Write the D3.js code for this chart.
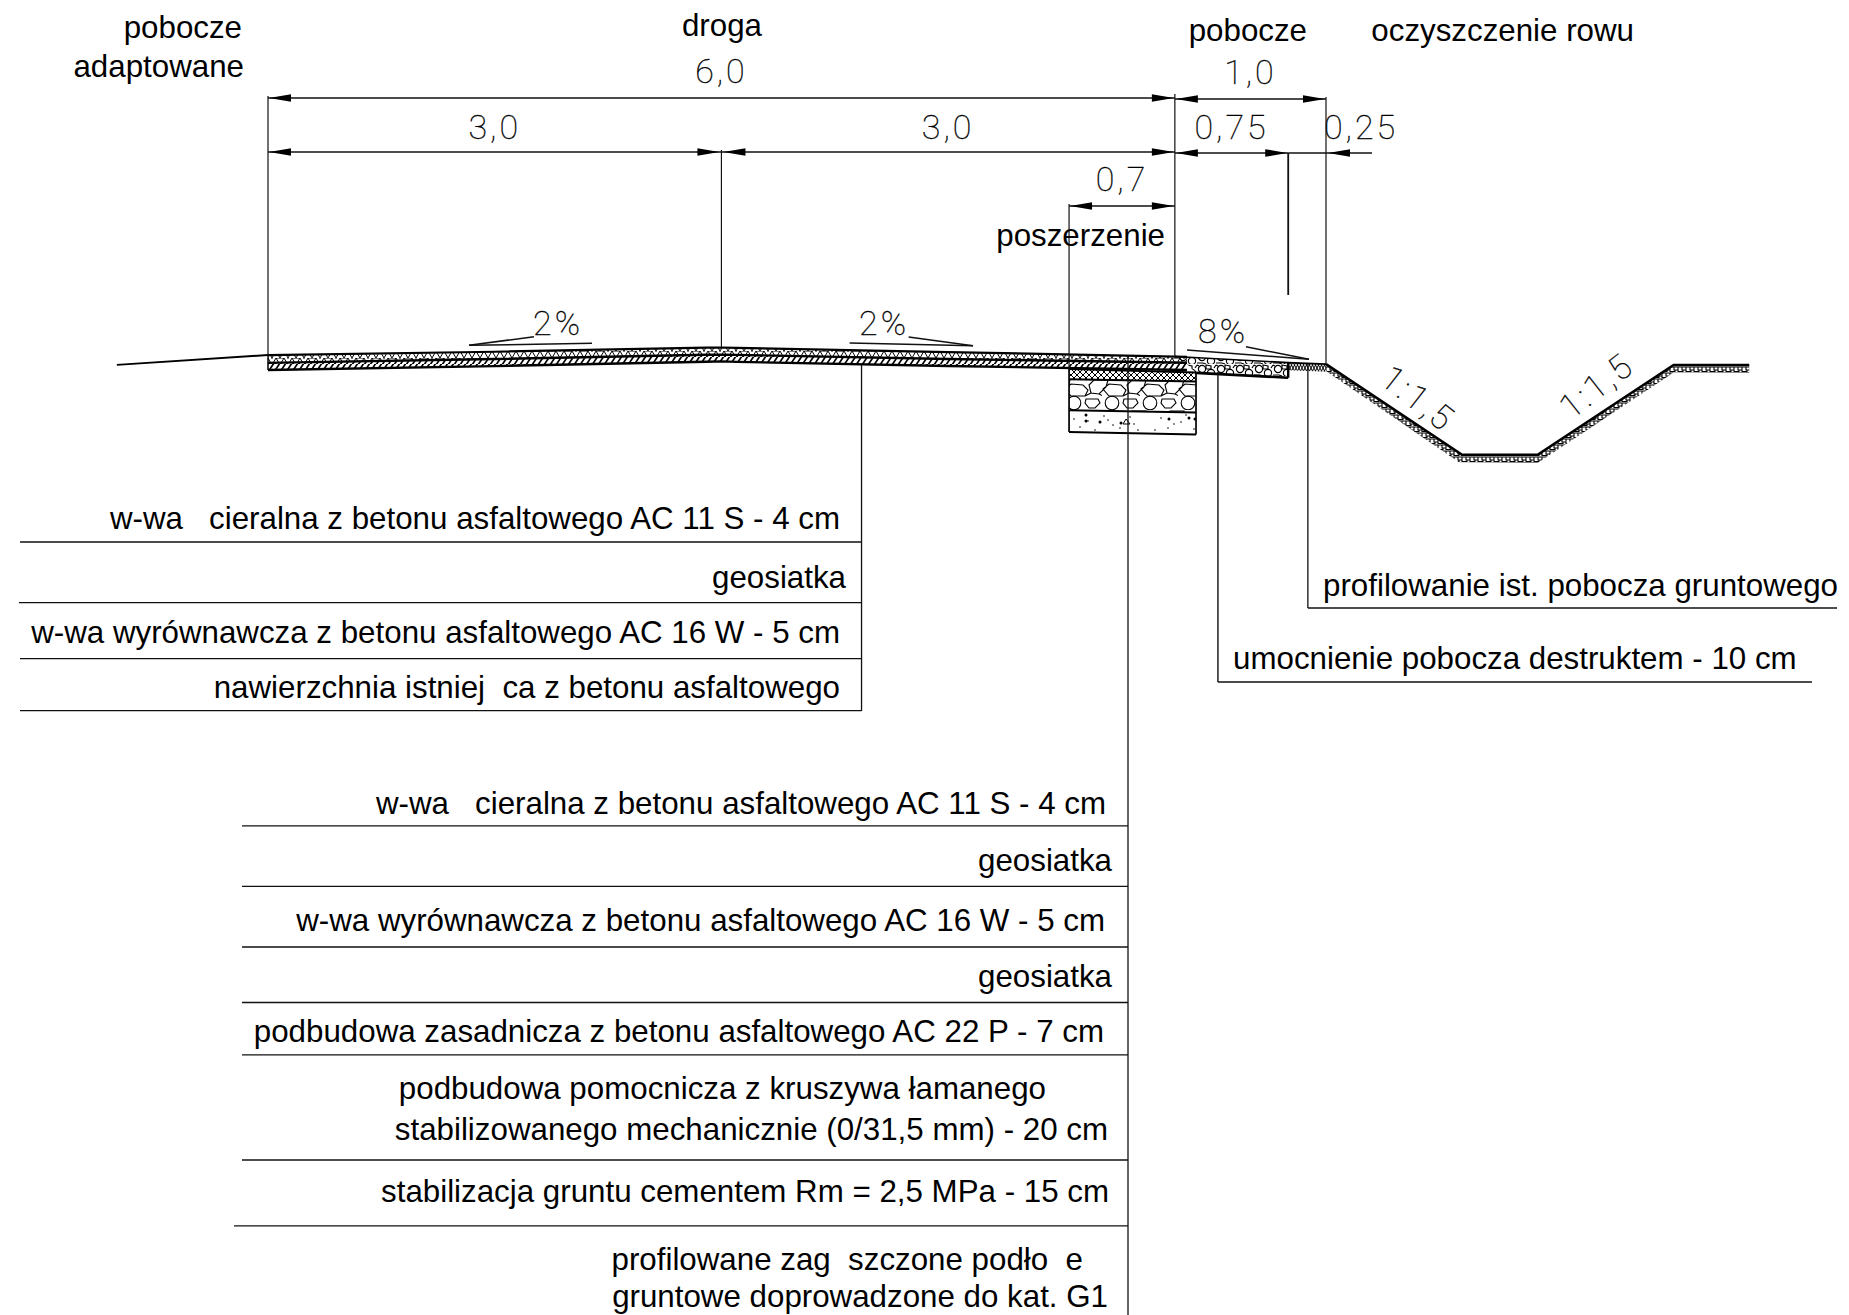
<!DOCTYPE html>
<html>
<head>
<meta charset="utf-8">
<script src="https://cdn.jsdelivr.net/npm/d3@7"></script>
<style>
  html, body { margin: 0; background: #fff; }
  text { font-family: "Liberation Sans", Arial, sans-serif; white-space: pre; fill: #000; }
</style>
</head>
<body>
<div id="graph"></div>
<script>
// dimensions along the cross section, metres from the road axis
const dimStart = [-3, -3, 0, 3, 3, 3.75, 2.3];
const dimValue = [6, 3, 3, 1, 0.75, 0.25, 0.7];
const dimLabels = ["6,0", "3,0", "3,0", "1,0", "0,75", "0,25", "0,7"];

// surface and layers: chainage (m), elevation (m)
const roadTop = [[-3, -0.05], [-1.5, -0.028], [-0.1, -0.001], [0, 0], [0.1, -0.002], [1.5, -0.03], [3, -0.06], [3.08, -0.062]];
const roadMid = [[-3, -0.102], [-1.5, -0.076], [-0.1, -0.048], [0, -0.047], [0.1, -0.049], [1.5, -0.076], [3.08, -0.101]];
const roadBottom = [[-3, -0.149], [-1.5, -0.123], [-0.1, -0.094], [0, -0.092], [0.1, -0.095], [1.5, -0.122], [3.08, -0.149]];
const leftVerge = [[-4, -0.115], [-3, -0.05]];
const shoulderTop = [[3, -0.06], [3.75, -0.1], [4, -0.11]];
const shoulderBottom = [[3.14, -0.168], [3.75, -0.2]];
const profiledVerge = [[3.75, -0.1], [4, -0.11], [4, -0.16], [3.75, -0.15]];
const ditch = [[4, -0.11], [4.9, -0.71], [5.4, -0.71], [6.3, -0.116], [6.8, -0.116]];
const ditchBelow = [[4, -0.155], [4.88, -0.76], [5.4, -0.765], [6.3, -0.165], [6.8, -0.168]];

// widening block under the road edge
const wideningX = [2.3, 3.14];
const wideningLevels = [[-0.143, -0.165], [-0.21, -0.225], [-0.415, -0.43], [-0.56, -0.575]];

// slope marks
const slopeLabels = ["2%", "2%", "8%"];
const ditchLabels = ["1:1,5", "1:1,5"];

// texts
const topLabels = ["pobocze", "adaptowane", "droga", "pobocze", "oczyszczenie rowu", "poszerzenie"];
const roadLayers = [
  "w-wa   cieralna z betonu asfaltowego AC 11 S - 4 cm",
  "geosiatka",
  "w-wa wyrównawcza z betonu asfaltowego AC 16 W - 5 cm",
  "nawierzchnia istniej  ca z betonu asfaltowego"
];
const wideningLayers = [
  "w-wa   cieralna z betonu asfaltowego AC 11 S - 4 cm",
  "geosiatka",
  "w-wa wyrównawcza z betonu asfaltowego AC 16 W - 5 cm",
  "geosiatka",
  "podbudowa zasadnicza z betonu asfaltowego AC 22 P - 7 cm",
  "podbudowa pomocnicza z kruszywa łamanego",
  "stabilizowanego mechanicznie (0/31,5 mm) - 20 cm",
  "stabilizacja gruntu cementem Rm = 2,5 MPa - 15 cm",
  "profilowane zag  szczone podło  e",
  "gruntowe doprowadzone do kat. G1"
];
const shoulderLayers = ["profilowanie ist. pobocza gruntowego", "umocnienie pobocza destruktem - 10 cm"];
const leaderChainage = [0.927, 2.69, 3.285, 3.88];

// layout of the sheet, pixels
const width = 1849;
const height = 1315;
const fontSize = 31.3;
const dimY = [98, 152, 152, 99, 153, 153, 206];
const dimTextY = [83, 138.5, 138.5, 84, 138.5, 138.5, 191];
const dimTextShift = [0, 0, 0, 0, 0, 54, 0];

const x = d3.scaleLinear().domain([-3, 4]).range([268, 1326]);
const y = d3.scaleLinear().domain([0, -1]).range([347.5, 498.6]);
const line = d3.line().x(d => x(d[0])).y(d => y(d[1]));

const svg = d3.select("#graph").append("svg")
  .attr("width", width).attr("height", height)
  .style("display", "block");
const defs = svg.append("defs");

function pattern(id, w, h, oy) {
  return defs.append("pattern").attr("id", id)
    .attr("patternUnits", "userSpaceOnUse")
    .attr("width", w).attr("height", h)
    .attr("y", oy || 0);
}
function tilePath(p, d, sw) {
  p.append("path").attr("d", d).attr("fill", "none").attr("stroke", "#000").attr("stroke-width", sw);
}

tilePath(pattern("asphalt", 16, 7, 1), "M0 7L4 0L8 7L12 0L16 7M4 0H12M0 0H1M15 0H16", 1);
tilePath(pattern("diag", 6, 7, 0), "M-2 8L4 -1M4 8L10 -1", 1.7);
tilePath(pattern("cross", 6, 6, 0), "M0 0L6 6M6 0L0 6", 1);
tilePath(pattern("zig", 6, 6, 2), "M0 0L3 6L6 0M0 6L3 0L6 6", 1);
tilePath(pattern("soil", 8, 6, 0), "M0 1H8M2 1V4H6V1M0 5.5H3V4M6 4V5.5H8", 1.1);

const big = pattern("stones", 38, 31, 379);
tilePath(big, "M1 10L7 5L19 6L24 11L21 17L7 17ZM25 6L30 1L44 1L42 8L35 15L27 14ZM-13 6L-8 1L6 1L4 8L-3 15L-11 14ZM21 17L27 14M35 15L39 17", 1.1);
big.append("circle").attr("cx", 10).attr("cy", 24).attr("r", 6.8).attr("fill", "none").attr("stroke", "#000").attr("stroke-width", 1.1);
tilePath(big, "M22 20H34L36 24L31 29H25L21 24Z", 1.1);

const small = pattern("pebbles", 19, 12, 364);
small.append("circle").attr("cx", 5).attr("cy", 5).attr("r", 3.6).attr("fill", "none").attr("stroke", "#000").attr("stroke-width", 1.2);
small.append("circle").attr("cx", 14).attr("cy", 9).attr("r", 3.6).attr("fill", "none").attr("stroke", "#000").attr("stroke-width", 1.2);
tilePath(small, "M9 1L14 2L14 5L9 5ZM0 11L6 11L9 12M17 4L19 1M0 1L2 2", 1.2);

const speck = pattern("speck", 127, 24, 410);
[[18, 8], [31, 14], [43, 5], [58, 9], [64, 17], [72, 11], [88, 6], [97, 15], [104, 18], [114, 7], [122, 20], [12, 20], [51, 19], [79, 20], [25, 18], [38, 12], [92, 10], [118, 14]]
  .forEach(d => speck.append("circle").attr("cx", d[0]).attr("cy", d[1]).attr("r", 0.8));
tilePath(speck, "M110 9L114 14L107 14Z", 1);
[[70, 5], [70, 11], [105, 13], [84, 12], [26, 9], [46, 8], [52, 9]]
  .forEach(d => speck.append("circle").attr("cx", d[0]).attr("cy", d[1]).attr("r", 1.5));

// pavement layers
const closed = (a, b) => line(a.concat(b.slice().reverse())) + "Z";
function layer(d, fill) {
  svg.append("path").attr("d", d).attr("fill", fill).attr("stroke", "none");
}
layer(closed(roadTop, roadMid), "url(#asphalt)");
layer(closed(roadMid, roadBottom), "url(#diag)");

const shoulderTopRun = [[3, -0.06], [3.75, -0.1]];
layer(closed(shoulderTopRun, [[3.08, -0.11], [3.14, -0.168], [3.75, -0.2]]), "url(#pebbles)");
layer(line(profiledVerge) + "Z", "url(#zig)");

const blockFills = ["url(#cross)", "url(#stones)", "url(#speck)"];
blockFills.forEach((c, i) => {
  const a = wideningX.map((v, j) => [v, wideningLevels[i][j]]);
  const b = wideningX.map((v, j) => [v, wideningLevels[i + 1][j]]);
  layer(closed(a, b), c);
});
wideningLevels.forEach(l => {
  svg.append("path").attr("d", line(wideningX.map((v, j) => [v, l[j]])))
    .attr("fill", "none").attr("stroke", "#000").attr("stroke-width", 2);
});
wideningX.forEach((v, j) => {
  svg.append("path").attr("d", line([[v, wideningLevels[0][j]], [v, wideningLevels[3][j]]]))
    .attr("fill", "none").attr("stroke", "#000").attr("stroke-width", 1.7);
});

layer(closed(ditch, ditchBelow), "url(#soil)");

function stroke(pts, sw) {
  svg.append("path").attr("d", line(pts)).attr("fill", "none").attr("stroke", "#000").attr("stroke-width", sw);
}
stroke(roadTop, 2.2);
stroke(roadMid, 2.4);
stroke(roadBottom, 2.4);
stroke(leftVerge, 2);
stroke(shoulderTop, 1.6);
stroke(shoulderBottom, 2.6);
stroke(ditch, 2.6);
stroke([[-3, -0.05], [-3, -0.149]], 1.5);
stroke([[3.75, -0.1], [3.75, -0.2]], 2.4);

// extension lines
const thin = (x1, y1, x2, y2, sw) => svg.append("line")
  .attr("x1", x1).attr("y1", y1).attr("x2", x2).attr("y2", y2)
  .attr("stroke", "#111").attr("stroke-width", sw || 1.2);

thin(x(-3), 96, x(-3), y(-0.05));
thin(x(0), 150, x(0), y(0));
thin(x(3), 94, x(3), y(-0.06));
thin(x(4), 97, x(4), y(-0.11));
thin(x(3.75), 153, x(3.75), 295, 1.8);
thin(x(2.3), 204, x(2.3), y(-0.143));

// dimension arrows
function arrow(px, py, dir) {
  svg.append("path")
    .attr("d", d3.line()([[px, py], [px + dir * 22, py - 3.8], [px + dir * 22, py + 3.8]]) + "Z")
    .attr("fill", "#000");
}
dimStart.forEach((s, i) => {
  const x1 = x(s);
  const x2 = x(s + dimValue[i]);
  const yy = dimY[i];
  const g1 = s === 0 ? 2 : 1;
  const g2 = s + dimValue[i] === 0 ? 2 : 1;
  if (dimLabels[i] === "0,25") {
    thin(x1, yy, x2 + 46, yy, 1.6);
    arrow(x2 + 2, yy, 1);
  } else {
    thin(x1, yy, x2, yy, 1.6);
    arrow(x1 + g1, yy, 1);
    arrow(x2 - g2, yy, -1);
  }
  svg.append("text")
    .attr("class", "cad")
    .attr("x", (x1 + x2) / 2 + dimTextShift[i])
    .attr("y", dimTextY[i])
    .text(dimLabels[i]);
});

// slope marks
const slopeMarks = [
  [[469, 345.3], [592, 343.3], [469, 345.3], [534, 336.7]],
  [[849.6, 343], [973, 345.7], [908.6, 337], [973, 345.7]],
  [[1187, 350], [1309, 359.3], [1246, 346.7], [1309, 359.3]]
];
slopeMarks.forEach(m => {
  thin(m[0][0], m[0][1], m[1][0], m[1][1], 1.5);
  thin(m[2][0], m[2][1], m[3][0], m[3][1], 1.5);
});
const slopeTextX = [558, 884, 1223];
const slopeTextY = [335, 335, 343];
slopeLabels.forEach((t, i) => {
  svg.append("text").attr("class", "cad").attr("x", slopeTextX[i]).attr("y", slopeTextY[i]).text(t);
});
const ditchTextPos = [[1411, 408, 38], [1604, 395, -38]];
ditchLabels.forEach((t, i) => {
  const p = ditchTextPos[i];
  svg.append("text").attr("class", "cad")
    .attr("transform", "translate(" + p[0] + "," + p[1] + ") rotate(" + p[2] + ")")
    .text(t);
});
svg.selectAll("text.cad")
  .attr("text-anchor", "middle")
  .style("font-family", "Roboto, 'Liberation Sans', sans-serif")
  .style("font-weight", 100)
  .style("font-size", "34px")
  .style("letter-spacing", "3px")
  .style("stroke", "#000")
  .style("stroke-width", 0.35);

// top labels
const topPos = [[242, 38], [244, 77], [762, 36], [1307, 41], [1634, 41], [1165, 246]];
topLabels.forEach((t, i) => {
  svg.append("text").attr("x", topPos[i][0]).attr("y", topPos[i][1])
    .attr("text-anchor", "end").style("font-size", fontSize + "px").text(t);
});

// leaders and callouts
function callout(chain, topY, bottomY, rules, ruleLeft) {
  thin(x(chain), topY, x(chain), bottomY, 1.3);
  rules.forEach((r, i) => thin(ruleLeft[i], r, x(chain), r, 1.3));
}
const roadRules = [542, 602.7, 658.7, 710.7];
callout(leaderChainage[0], 365, 711, roadRules, [20, 19, 20, 20]);
const roadText = [[840, 529], [846, 587.7], [840, 643], [840, 698]];
roadLayers.forEach((t, i) => {
  svg.append("text").attr("x", roadText[i][0]).attr("y", roadText[i][1])
    .attr("text-anchor", "end").style("font-size", fontSize + "px").text(t);
});

const wideningRules = [825.8, 886.4, 947, 1002.5, 1054.9, 1160, 1225.8];
callout(leaderChainage[1], 355, 1315, wideningRules, [242, 242, 242, 242, 242, 242, 234]);
const wideningText = [[1106, 814], [1112, 871.4], [1105, 930.6], [1112, 986.5], [1104, 1042.4], [1046, 1098.5], [1108, 1139.5], [1109, 1201.8], [1083, 1270], [1108, 1307]];
wideningLayers.forEach((t, i) => {
  svg.append("text").attr("x", wideningText[i][0]).attr("y", wideningText[i][1])
    .attr("text-anchor", "end").style("font-size", fontSize + "px").text(t);
});

thin(x(leaderChainage[2]), 372, x(leaderChainage[2]), 682, 1.4);
thin(x(leaderChainage[2]), 682, 1812, 682, 1.3);
thin(x(leaderChainage[3]), 364, x(leaderChainage[3]), 608, 1.3);
thin(x(leaderChainage[3]), 608, 1837, 608, 1.3);
const shoulderText = [[1323, 596], [1233, 669]];
shoulderLayers.forEach((t, i) => {
  svg.append("text").attr("x", shoulderText[i][0]).attr("y", shoulderText[i][1])
    .style("font-size", fontSize + "px").text(t);
});
</script>
</body>
</html>
